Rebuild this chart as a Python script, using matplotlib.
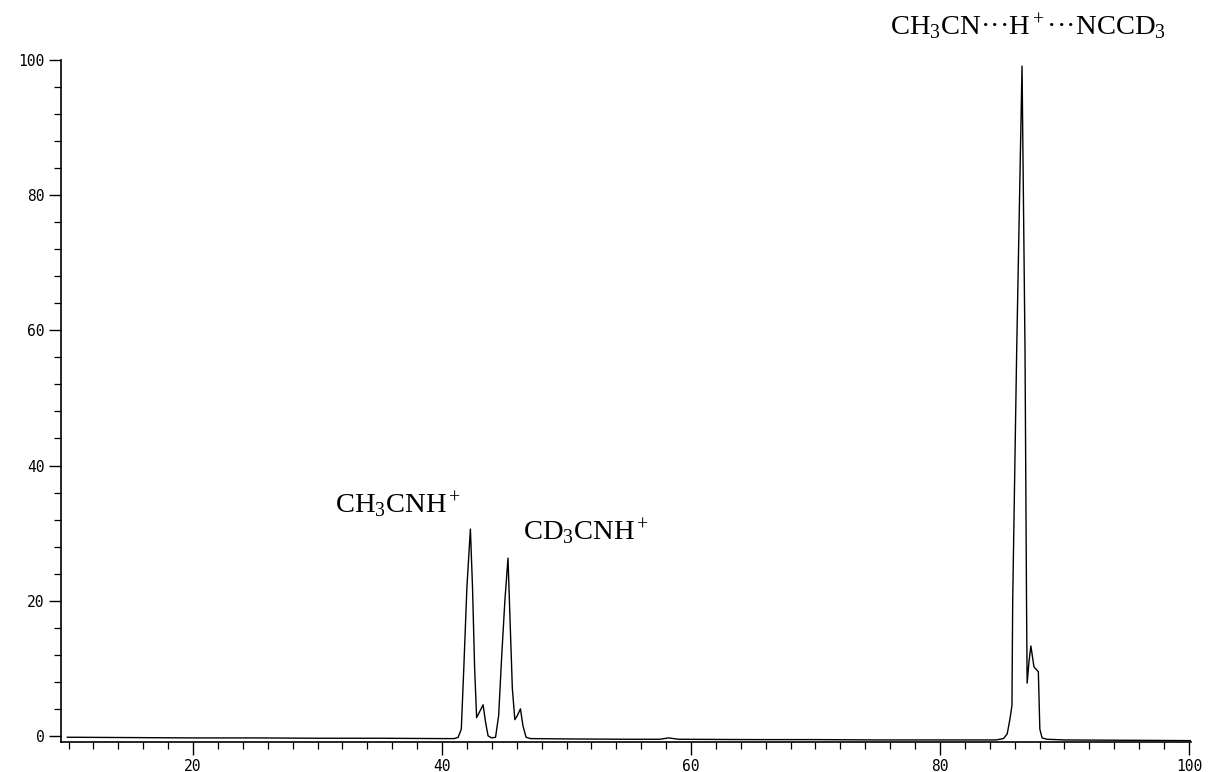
import matplotlib
matplotlib.use("Agg")
import matplotlib.pyplot as plt
from matplotlib.ticker import MultipleLocator

# trace (mass axis, relative intensity)
mass = [9.9, 15, 20, 25, 30, 35, 40, 41.0, 41.3, 41.55, 41.75, 42.0, 42.28,
        42.45, 42.62, 42.78, 43.0, 43.3, 43.5, 43.7, 44.0, 44.3, 44.55, 44.8,
        45.05, 45.3, 45.45, 45.65, 45.85, 46.05, 46.3, 46.5, 46.75, 47.1,
        50, 55, 57.5, 58.2, 59, 65, 70, 75, 80, 84.5, 85.1, 85.4, 85.62,
        85.78, 85.84, 86.16, 86.59, 86.83, 86.95, 87.0, 87.15, 87.3, 87.55,
        87.9, 88.02, 88.2, 88.6, 90, 95, 100.2]
intensity = [-0.2, -0.25, -0.3, -0.3, -0.35, -0.35, -0.4, -0.4, -0.2, 1.0,
             10, 22, 30.6, 22, 10, 2.7, 3.5, 4.6, 2.0, 0.0, -0.3, -0.2, 3,
             12, 20, 26.3, 18, 7, 2.4, 3.0, 4.0, 1.5, -0.2, -0.4,
             -0.45, -0.5, -0.5, -0.3, -0.5, -0.55, -0.55, -0.6, -0.6, -0.6,
             -0.4, 0.3, 2.5, 4.5, 20, 57, 99.1, 57, 20, 7.8, 11, 13.3, 10.2,
             9.5, 1.0, -0.3, -0.5, -0.6, -0.65, -0.7]

yticks = [0, 20, 40, 60, 80, 100]
xticks = [20, 40, 60, 80, 100]

labels = [r'$\mathrm{CH_3CNH^+}$',
          r'$\mathrm{CD_3CNH^+}$',
          r'$\mathrm{CH_3CN}$···$\mathrm{H^+}$···$\mathrm{NCCD_3}$']
label_x = [31.4, 46.5, 76.0]
label_y = [33.0, 29.0, 103.7]

plt.rcParams['mathtext.fontset'] = 'custom'
plt.rcParams['mathtext.rm'] = 'Liberation Serif'
plt.rcParams['mathtext.it'] = 'Liberation Serif:italic'

fig = plt.figure(figsize=(12.09, 7.72), dpi=100)
ax = fig.add_axes([0.0505, 0.0389, 0.935, 0.8834])

ax.plot(mass, intensity, color='black', lw=1.0)

ax.set_xlim(9.4, 100.2)
ax.set_ylim(-0.9, 100)
ax.set_xticks(xticks)
ax.set_yticks(yticks)
ax.xaxis.set_minor_locator(MultipleLocator(2))
ax.yaxis.set_minor_locator(MultipleLocator(4))

for s in ['top', 'right']:
    ax.spines[s].set_visible(False)
for s in ['left', 'bottom']:
    ax.spines[s].set_linewidth(1.2)

ax.tick_params(which='major', direction='out', length=9, width=1.0, pad=3,
               labelsize=10.5)
ax.tick_params(which='minor', direction='out', length=5, width=0.9)
for lab in ax.get_xticklabels() + ax.get_yticklabels():
    lab.set_fontfamily('DejaVu Sans Mono')

for t, x, y in zip(labels, label_x, label_y):
    ax.text(x, y, t, fontsize=20.5, family='Liberation Serif',
            fontweight='normal', ha='left', va='baseline')

fig.savefig('out.png', dpi=100)
